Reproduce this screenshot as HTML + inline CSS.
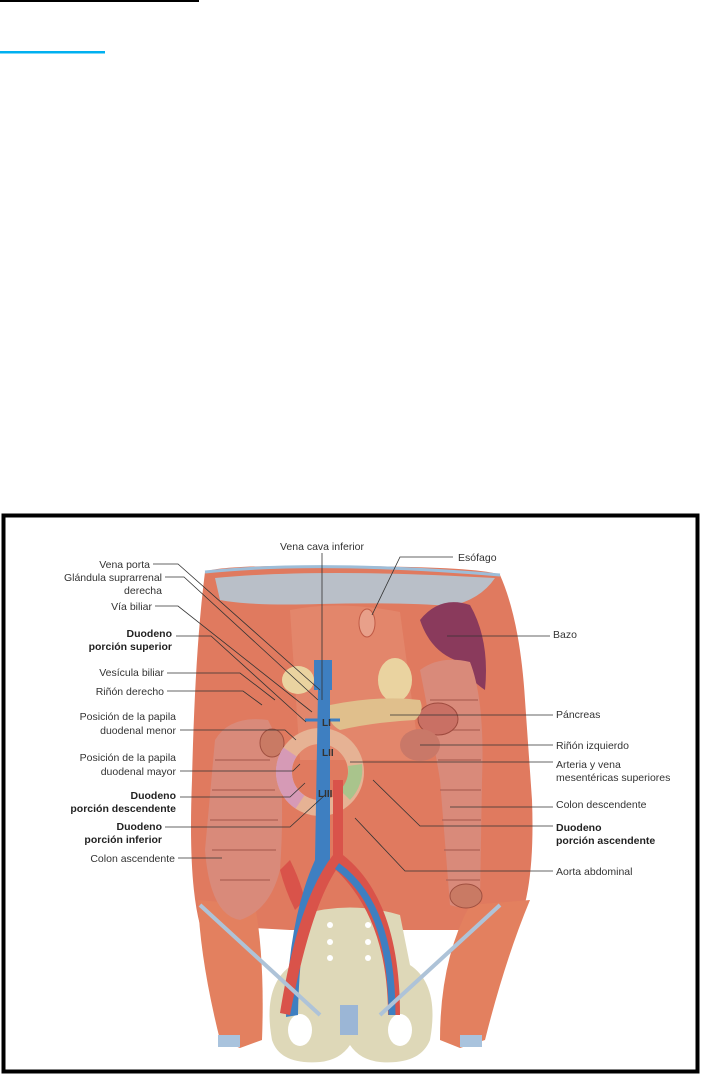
<!DOCTYPE html>
<html><head><meta charset="utf-8"><style>
html,body{margin:0;padding:0;background:#fff;width:701px;height:1075px;overflow:hidden}
svg{display:block}
text{font-family:"Liberation Sans",sans-serif;font-size:10.5px;fill:#333}
.b{font-weight:bold;fill:#222}
</style></head><body>
<svg width="701" height="1075" viewBox="0 0 701 1075" xmlns="http://www.w3.org/2000/svg">
<rect x="0" y="0" width="199" height="2" fill="#000"/>
<rect x="0" y="51" width="105" height="2.5" fill="#00b0f0"/>
<rect x="3.5" y="515.5" width="694" height="556" fill="#fff" stroke="#000" stroke-width="4"/>

<!-- body -->
<path d="M205,572 Q220,565 320,566 Q480,566 500,575 Q520,620 525,700 L532,800 Q535,880 520,920 L500,930 L290,930 L200,925 Q188,880 192,780 Q195,650 205,572Z" fill="#e07a5f"/>
<!-- flanks -->
<path d="M198,900 L255,905 Q265,960 262,1040 L240,1048 L220,1040 Q200,960 198,900Z" fill="#e3805f"/>
<path d="M530,900 L470,905 Q440,960 440,1040 L460,1048 L485,1040 Q505,960 530,900Z" fill="#e3805f"/>
<rect x="258" y="1035" width="22" height="12" fill="#a9c3dd" transform="translate(-40,0)"/>
<rect x="460" y="1035" width="22" height="12" fill="#a9c3dd"/>
<path d="M215,578 Q320,568 495,578 Q480,600 450,606 Q400,602 320,604 Q250,606 220,600Z" fill="#b9bfc8"/>
<path d="M205,572 Q320,560 500,575" fill="none" stroke="#9dbdd8" stroke-width="3"/>
<path d="M290,610 Q340,600 400,612 L420,760 L300,760Z" fill="#e48a6e" opacity=".8"/>
<!-- spleen -->
<path d="M420,620 Q440,595 470,605 Q490,640 485,690 Q470,680 455,660 Q430,650 420,620Z" fill="#8a3a5c"/>
<ellipse cx="367" cy="623" rx="8" ry="14" fill="#e8a08a" stroke="#c05a45"/>
<ellipse cx="298" cy="680" rx="16" ry="14" fill="#ead3a0"/>
<ellipse cx="395" cy="680" rx="17" ry="22" fill="#ead3a0"/>
<!-- ascending colon -->
<path d="M215,740 Q230,715 268,720 L278,740 Q285,800 280,870 Q270,910 240,920 Q210,915 205,850 Z" fill="#d98a7a"/>
<path d="M215,760 L270,760 M212,790 L275,790 M210,820 L278,820 M212,850 L276,850 M220,880 L270,880" stroke="#b5675a" stroke-width="1.5"/>
<ellipse cx="272" cy="743" rx="12" ry="14" fill="#c97a64" stroke="#a05040"/>
<path d="M290,860 Q300,880 305,900 L295,910 Q285,890 280,870Z" fill="#d9534a"/>
<!-- descending colon -->
<path d="M420,670 Q440,655 470,662 Q485,700 482,780 L480,900 Q470,912 450,905 L440,780 Q430,720 420,670Z" fill="#d98a7a"/>
<path d="M430,700 L478,700 M433,730 L480,730 M438,760 L481,760 M440,790 L481,790 M442,820 L481,820 M444,850 L480,850 M446,880 L480,880" stroke="#b5675a" stroke-width="1.5"/>
<ellipse cx="466" cy="896" rx="16" ry="12" fill="#c97a64" stroke="#a05040"/>
<ellipse cx="438" cy="719" rx="20" ry="16" fill="#c97064" stroke="#9e4a3e"/>
<ellipse cx="420" cy="745" rx="20" ry="16" fill="#c97868"/>
<!-- pancreas -->
<path d="M330,705 Q380,695 420,700 Q425,712 415,720 Q375,722 340,730 Q325,722 330,705Z" fill="#e0bf8c"/>
<!-- duodenum -->
<circle cx="320" cy="772" r="36" fill="none" stroke="#e6b294" stroke-width="16"/>
<path d="M290,752 A36,36 0 0,0 300,802" fill="none" stroke="#d69ab6" stroke-width="16"/>
<path d="M345,795 A36,36 0 0,0 355,765" fill="none" stroke="#a9c48c" stroke-width="14"/>
<!-- pelvis -->
<path d="M300,915 Q350,900 400,915 L410,965 Q440,985 430,1040 Q420,1065 380,1062 Q360,1060 350,1045 Q340,1060 320,1062 Q280,1065 272,1040 Q262,985 292,965Z" fill="#ded8b8"/>
<ellipse cx="300" cy="1030" rx="12" ry="16" fill="#fff"/>
<ellipse cx="400" cy="1030" rx="12" ry="16" fill="#fff"/>
<circle cx="330" cy="925" r="3" fill="#fff"/><circle cx="368" cy="925" r="3" fill="#fff"/>
<circle cx="330" cy="942" r="3" fill="#fff"/><circle cx="368" cy="942" r="3" fill="#fff"/>
<circle cx="330" cy="958" r="3" fill="#fff"/><circle cx="368" cy="958" r="3" fill="#fff"/>
<rect x="340" y="1005" width="18" height="30" fill="#9bb6d6"/>
<!-- vessels -->
<rect x="314" y="660" width="18" height="30" fill="#3e7fc1"/>
<path d="M318,690 L330,690 L330,860 Q300,900 298,1015 L286,1017 Q288,920 315,860Z" fill="#3e7fc1"/>
<path d="M333,780 L343,780 L343,855 Q400,900 400,1015 L388,1015 Q388,920 336,870 Q310,910 290,1015 L280,1013 Q298,900 333,855Z" fill="#d9534a"/>
<path d="M337,866 Q392,905 392,1015" fill="none" stroke="#3e7fc1" stroke-width="7"/>
<path d="M305,720 L340,720" stroke="#3e7fc1" stroke-width="3"/>
<path d="M200,905 L320,1015 M500,905 L380,1015" stroke="#aec3d8" stroke-width="4"/>
<!-- lines -->
<g stroke="#333" stroke-width=".8" fill="none">
<path d="M153,564 L178,564 L320,690"/>
<path d="M165,577 L184,577 L318,700"/>
<path d="M155,606 L178,606 L312,712"/>
<path d="M176,636 L211,636 L306,722"/>
<path d="M167,673 L240,673 L275,700"/>
<path d="M167,691 L243,691 L262,705"/>
<path d="M180,730 L285,730 L296,740"/>
<path d="M180,771 L293,771 L300,764"/>
<path d="M180,797 L290,797 L305,783"/>
<path d="M165,827 L290,827 L325,795"/>
<path d="M178,858 L222,858"/>
<path d="M322,553 L322,700"/>
<path d="M453,557 L400,557 L372,615"/>
<path d="M550,636 L447,636"/>
<path d="M553,715 L390,715"/>
<path d="M553,745 L420,745"/>
<path d="M553,762 L350,762"/>
<path d="M553,807 L450,807"/>
<path d="M553,826 L420,826 L373,780"/>
<path d="M553,871 L405,871 L355,818"/>
</g>
<text x="322" y="550" text-anchor="middle">Vena cava inferior</text>
<text x="458" y="561">Esófago</text>
<g text-anchor="end">
<text x="150" y="568">Vena porta</text>
<text x="162" y="581">Glándula suprarrenal</text>
<text x="162" y="594">derecha</text>
<text x="152" y="610">Vía biliar</text>
<text class="b" x="172" y="637">Duodeno</text>
<text class="b" x="172" y="650">porción superior</text>
<text x="164" y="676">Vesícula biliar</text>
<text x="164" y="695">Riñón derecho</text>
<text x="176" y="720">Posición de la papila</text>
<text x="176" y="734">duodenal menor</text>
<text x="176" y="761">Posición de la papila</text>
<text x="176" y="775">duodenal mayor</text>
<text class="b" x="176" y="799">Duodeno</text>
<text class="b" x="176" y="812">porción descendente</text>
<text class="b" x="162" y="830">Duodeno</text>
<text class="b" x="162" y="843">porción inferior</text>
<text x="175" y="862">Colon ascendente</text>
</g>
<text x="553" y="638">Bazo</text>
<text x="556" y="718">Páncreas</text>
<text x="556" y="749">Riñón izquierdo</text>
<text x="556" y="768">Arteria y vena</text>
<text x="556" y="781">mesentéricas superiores</text>
<text x="556" y="808">Colon descendente</text>
<text class="b" x="556" y="831">Duodeno</text>
<text class="b" x="556" y="844">porción ascendente</text>
<text x="556" y="875">Aorta abdominal</text>
<text x="322" y="726" style="font-weight:bold;font-size:10px">LI</text>
<text x="322" y="756" style="font-weight:bold;font-size:10px">LII</text>
<text x="318" y="797" style="font-weight:bold;font-size:10px">LIII</text>
</svg>
</body></html>
